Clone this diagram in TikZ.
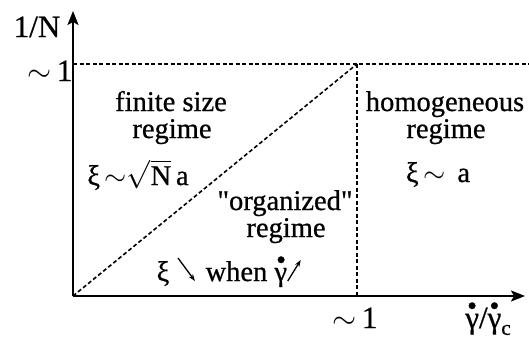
\RequirePackage{fix-cm}
\documentclass[tikz,border=0pt]{standalone}
\usepackage{fontspec}
\setmainfont{Liberation Serif}[Ligatures=TeXOff,RawFeature={embolden=0.7}]
\usetikzlibrary{arrows.meta}
\newcommand\gdot{\makebox[0pt][l]{\hspace{0.06em}\raisebox{0.42em}{\fontsize{28}{28}\selectfont\textbullet}}γ}
\newcommand\tld{$\sim$}
\newcommand\arrdown{\tikz[baseline=0pt,x=1pt,y=1pt]\draw[line width=1.3pt,-{Stealth[length=7pt,width=5pt]}] (0,23) -- (17,0);}
\newcommand\arrup{\tikz[baseline=0pt,x=1pt,y=1pt]\draw[line width=1.3pt,-{Stealth[length=7pt,width=5pt]}] (0,0) -- (13,21);}
\begin{document}
\begin{tikzpicture}[x=1pt,y=-1pt,
  lbl/.style={inner sep=0pt, font=\fontsize{28.5}{30}\selectfont, align=center, anchor=base},
  big/.style={lbl, font=\fontsize{31}{32}\selectfont},
  axis/.style={line width=2pt, -{Stealth[length=14pt,width=11pt,inset=3pt]}},
  guide/.style={line width=1.6pt, dash pattern=on 4pt off 2.5pt}]
\useasboundingbox (0,0) rectangle (529,346);
\coordinate (O) at (73,296);
\coordinate (ytip) at (73,11);
\coordinate (xtip) at (525,296);
\coordinate (top) at (357,64);
\coordinate (topL) at (73,64);
\coordinate (topR) at (529,64);
\coordinate (xone) at (357,296);
\draw[guide] (topL) -- (topR);
\draw[guide] (top) -- (xone);
\draw[guide] (O) -- (top);
\draw[axis] (O) -- (ytip);
\draw[axis] (O) -- (xtip);
\node[big] (ylab) at (37,37) {1/N};
\node[big] (yone) at (50,81) {\tld\,1};
\node[big] (xonel) at (355,328) {\tld\,1};
\node[big] (xlab) at (488,328) {\gdot/\gdot\raisebox{-0.22em}{\fontsize{21}{21}\selectfont c}};
\node[lbl] (fs1) at (171,111) {finite size};
\node[lbl] (fs2) at (172,138) {regime};
\node[lbl] (fs3) at (138,185) {ξ\,\tld$\sqrt{\hbox{N}}$\,a};
\node[lbl] (hg1) at (445,111) {homogeneous};
\node[lbl] (hg2) at (446,138) {regime};
\node[lbl] (hg3) at (438,182) {ξ\,\tld\ \,a};
\node[lbl] (or1) at (285,210) {"organized"};
\node[lbl] (or2) at (286,237) {regime};
\node[lbl] (or3) at (229,281) {ξ\hspace{8pt}\arrdown\hspace{10pt}when \gdot\arrup};
\end{tikzpicture}
\end{document}
